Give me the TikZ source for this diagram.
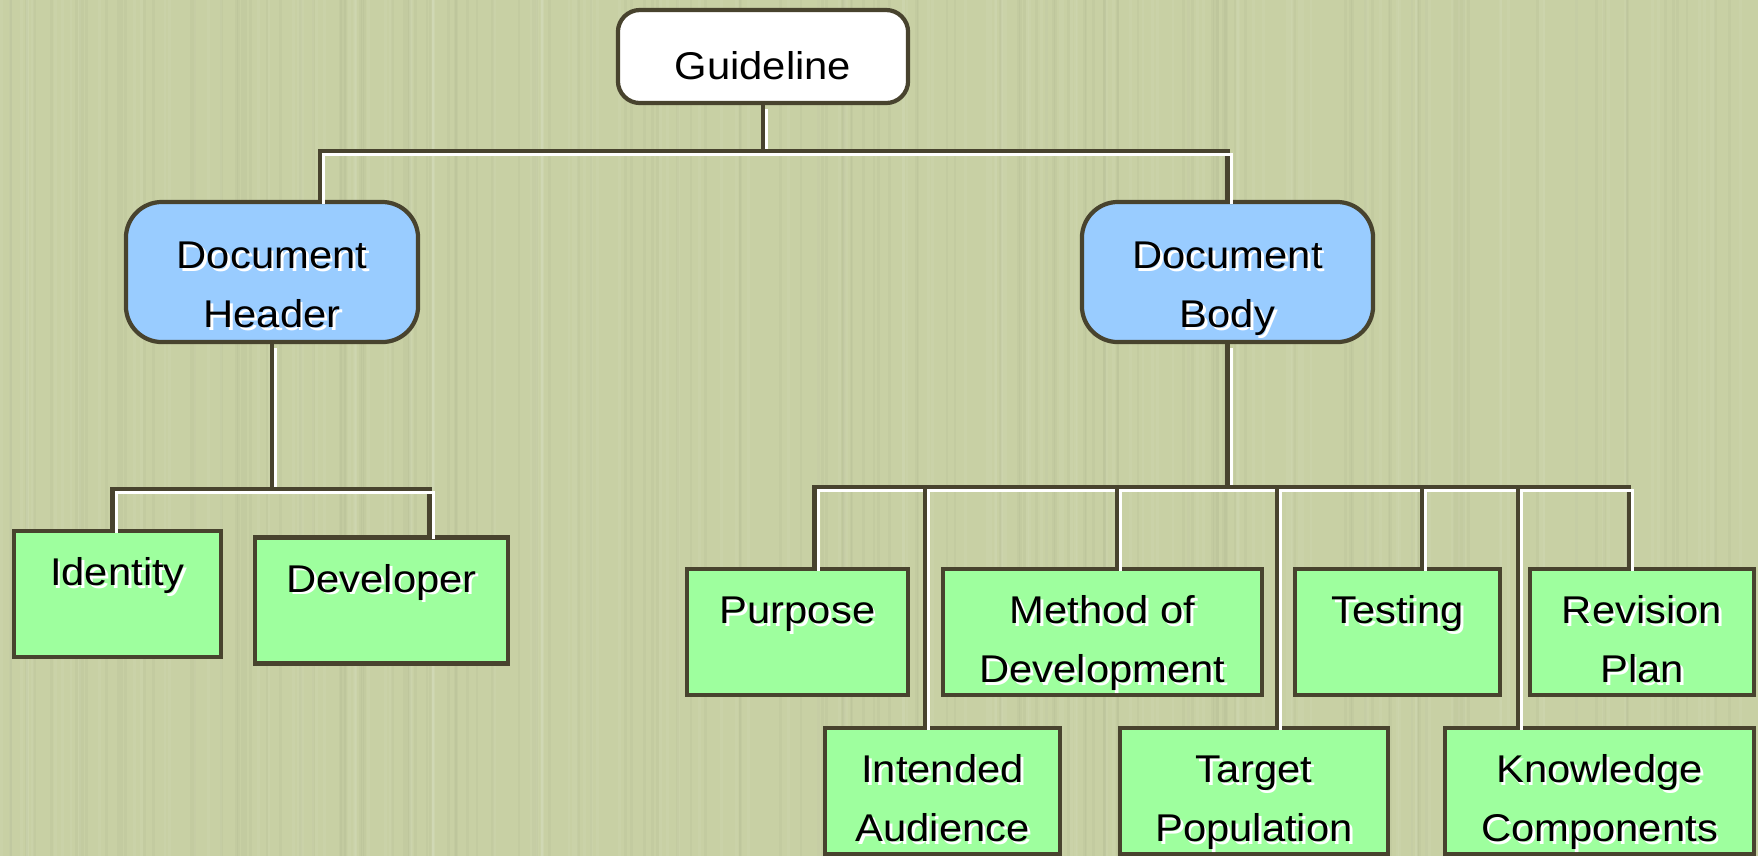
\documentclass[tikz,border=0pt]{standalone}
\usepackage{fontspec}
\setmainfont[FakeStretch=1.08]{Liberation Sans}
\definecolor{paper}{RGB}{200,208,164}
\definecolor{edge}{RGB}{72,67,46}
\definecolor{leafgreen}{RGB}{158,255,158}
\definecolor{midblue}{RGB}{153,204,255}
\newcommand\shd[1]{\leavevmode\rlap{\kern0.8pt\raisebox{-0.8pt}{\textcolor{white}{#1}}}#1}
\newcommand\leaftext[2]{\rule{0pt}{0.54cm}\shd{#1}\\\shd{#2}\rule[-0.12cm]{0pt}{0.12cm}}
\newcommand\midtext[2]{\rule{0pt}{0.66cm}\shd{#1}\\\shd{#2}\rule[-0.14cm]{0pt}{0.14cm}}
\tikzset{
  box/.style={draw=edge, line width=1.2pt, align=center, inner sep=0pt, font=\fontsize{11}{16.8}\selectfont},
  rootbox/.style={box, fill=white, rounded corners=0.22cm, minimum height=0.93cm},
  groupbox/.style={box, fill=midblue, rounded corners=0.36cm, minimum height=1.40cm},
  leafbox/.style={box, fill=leafgreen, minimum height=1.26cm},
  link/.style={draw=edge, line width=1.2pt, postaction={draw=white, line width=0.8pt, transform canvas={xshift=1.1pt, yshift=-1.1pt}}}
}
\begin{document}
\begin{tikzpicture}[x=0.01cm, y=-0.01cm]
\fill[paper] (0,0) rectangle (1758,856);
\useasboundingbox (0,0) rectangle (1758,856);
\pgfmathsetseed{11}
\foreach \i in {1,...,140} {
  \pgfmathsetmacro\xa{rnd*1758}
  \pgfmathsetmacro\xb{rnd*1758}
  \draw[white, opacity=0.05, line width=0.8pt] (\xa,0) -- (\xa,856);
  \draw[black!60!paper, opacity=0.04, line width=0.8pt] (\xb,0) -- (\xb,856);
}

\node[rootbox, minimum width=2.90cm] (guide) at (763,56.5) {\rule{0pt}{0.69cm}Guideline\rule[-0.23cm]{0pt}{0.23cm}};

\node[groupbox, minimum width=2.92cm] (head) at (272,272) {\midtext{Document}{Header}};
\node[groupbox, minimum width=2.91cm] (body) at (1227.5,272) {\midtext{Document}{Body}};

\node[leafbox, minimum width=2.07cm] (ident) at (117.5,594) {\leaftext{Identity}{}};
\node[leafbox, minimum width=2.53cm] (dev) at (381.5,600.5) {\leaftext{Developer}{}};

\node[leafbox, minimum width=2.21cm] (purp) at (797.5,632) {\leaftext{Purpose}{}};
\node[leafbox, minimum width=3.19cm] (meth) at (1102.5,632) {\leaftext{Method of}{Development}};
\node[leafbox, minimum width=2.05cm] (test) at (1397.5,632) {\leaftext{Testing}{}};
\node[leafbox, minimum width=2.24cm] (rev) at (1642,632) {\leaftext{Revision}{Plan}};

\node[leafbox, minimum width=2.35cm] (aud) at (942.5,791) {\leaftext{Intended}{Audience}};
\node[leafbox, minimum width=2.68cm] (targ) at (1254,791) {\leaftext{Target}{Population}};
\node[leafbox, minimum width=3.09cm] (know) at (1599.5,791) {\leaftext{Knowledge}{Components}};

\coordinate (barA) at (766,151);
\coordinate (barB) at (270,489);
\coordinate (barC) at (1230,487);

\draw[link] (guide) -- (guide |- barA);
\draw[link] ([xshift=0.48cm]head.north) |- (guide |- barA) -| (body.north);

\draw[link] (head) -- (head |- barB);
\draw[link] ([xshift=-0.05cm]ident.north) |- (head |- barB) -| ([xshift=0.48cm]dev.north);

\draw[link] (body) -- (body |- barC);
\draw[link] ([xshift=0.17cm]purp.north) |- (body |- barC) -| ([xshift=-0.13cm]rev.north);
\draw[link] ([xshift=-0.175cm]aud.north) -- ([xshift=-0.175cm]aud.north |- barC);
\draw[link] ([xshift=0.145cm]meth.north) -- ([xshift=0.145cm]meth.north |- barC);
\draw[link] ([xshift=0.23cm]targ.north) -- ([xshift=0.23cm]targ.north |- barC);
\draw[link] ([xshift=0.245cm]test.north) -- ([xshift=0.245cm]test.north |- barC);
\draw[link] ([xshift=-0.815cm]know.north) -- ([xshift=-0.815cm]know.north |- barC);
\end{tikzpicture}
\end{document}
